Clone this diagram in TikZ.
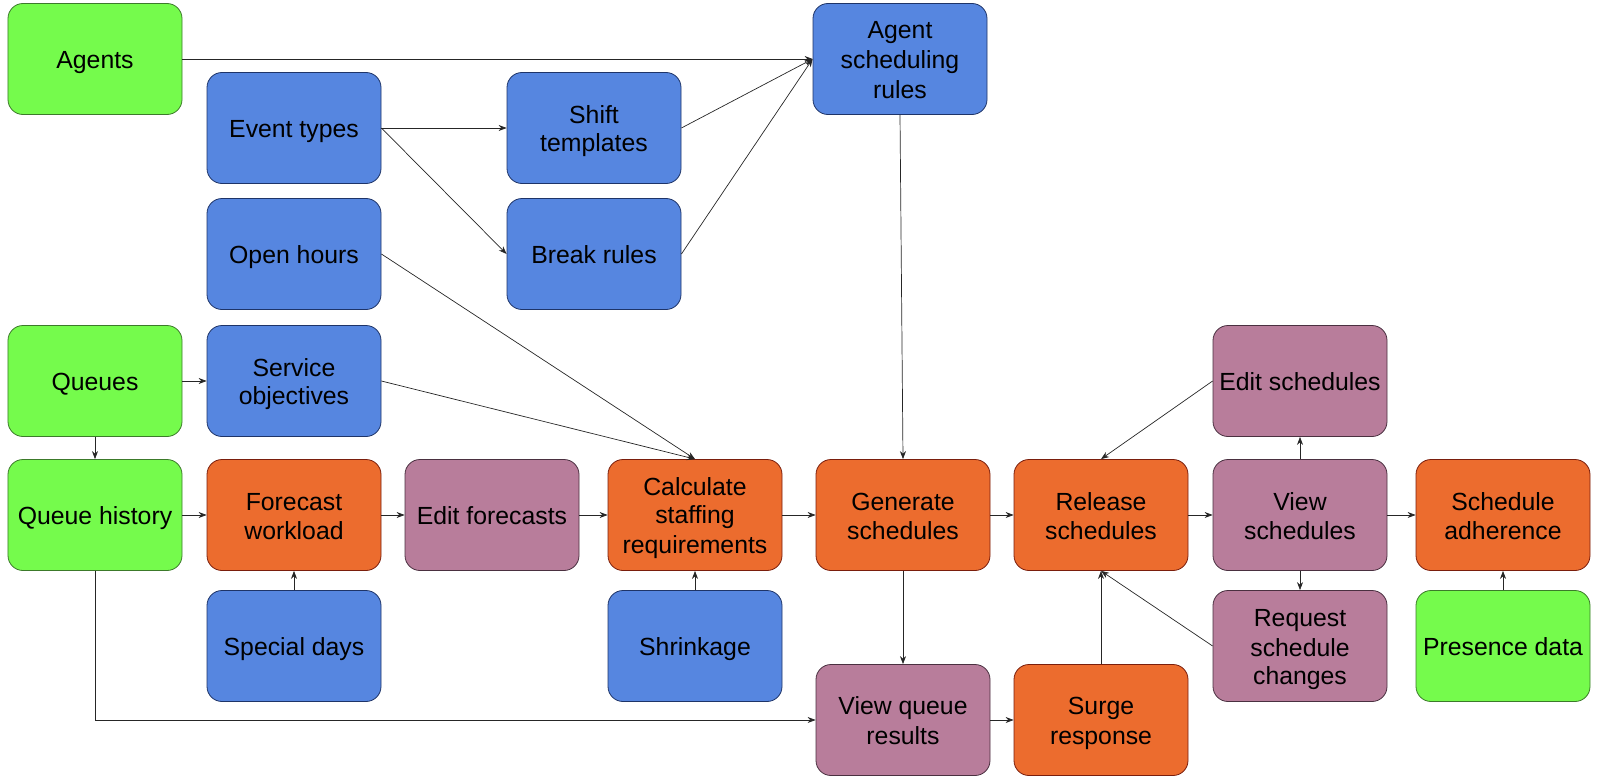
\documentclass[tikz,border=0pt]{standalone}
\usepackage{fontspec}
\setmainfont{Liberation Sans}
\usetikzlibrary{arrows.meta}
\definecolor{gfill}{HTML}{75FB4C}
\definecolor{gdraw}{HTML}{3C7A2A}
\definecolor{bfill}{HTML}{5686E0}
\definecolor{bdraw}{HTML}{1E3468}
\definecolor{ofill}{HTML}{EC6C2E}
\definecolor{odraw}{HTML}{7A1E0C}
\definecolor{pfill}{HTML}{B87D9B}
\definecolor{pdraw}{HTML}{4A3040}
\newcommand\xs{\rule[-4.7bp]{0pt}{28.7bp}}
\tikzset{
  box/.style={rectangle, rounded corners=15bp, minimum width=174bp, minimum height=111bp,
    inner sep=2bp, align=center, line width=0.8bp, font=\fontsize{24.8bp}{28.7bp}\selectfont},
  gbox/.style={box, fill=gfill, draw=gdraw},
  bbox/.style={box, fill=bfill, draw=bdraw},
  obox/.style={box, fill=ofill, draw=odraw},
  pbox/.style={box, fill=pfill, draw=pdraw},
  conn/.style={draw=black!85, line width=0.7bp, -{Stealth[length=8bp,width=6bp]}},
}
\begin{document}
\begin{tikzpicture}[x=1bp,y=-1bp]
\useasboundingbox (0,0) rectangle (1600,781);
\node[gbox] (agents) at (95,59) {\xs Agents};
\node[bbox] (asr) at (900,59) {\xs Agent\\\xs scheduling\\\xs rules};
\node[bbox] (event) at (294,128) {\xs Event types};
\node[bbox] (shift) at (594,128) {\xs Shift\\\xs templates};
\node[bbox] (open) at (294,254) {\xs Open hours};
\node[bbox] (brk) at (594,254) {\xs Break rules};
\node[gbox] (queues) at (95,381) {\xs Queues};
\node[bbox] (service) at (294,381) {\xs Service\\\xs objectives};
\node[pbox] (editsch) at (1300,381) {\xs Edit schedules};
\node[gbox] (qhist) at (95,515) {\xs Queue history};
\node[obox] (forecast) at (294,515) {\xs Forecast\\\xs workload};
\node[pbox] (editf) at (492,515) {\xs Edit forecasts};
\node[obox] (calc) at (695,515) {\xs Calculate\\\xs staffing\\\xs requirements};
\node[obox] (gen) at (903,515) {\xs Generate\\\xs schedules};
\node[obox] (rel) at (1101,515) {\xs Release\\\xs schedules};
\node[pbox] (views) at (1300,515) {\xs View\\\xs schedules};
\node[obox] (adh) at (1503,515) {\xs Schedule\\\xs adherence};
\node[bbox] (special) at (294,646) {\xs Special days};
\node[bbox] (shrink) at (695,646) {\xs Shrinkage};
\node[pbox] (request) at (1300,646) {\xs Request\\\xs schedule\\\xs changes};
\node[gbox] (presence) at (1503,646) {\xs Presence data};
\node[pbox] (vqr) at (903,720) {\xs View queue\\\xs results};
\node[obox] (surge) at (1101,720) {\xs Surge\\\xs response};

\draw[conn] (agents.east) -- (asr.west);
\draw[conn] (event.east) -- (shift.west);
\draw[conn] (event.east) -- (brk.west);
\draw[conn] (shift.east) -- (asr.west);
\draw[conn] (brk.east) -- (asr.west);
\draw[conn] (open.east) -- (calc.north);
\draw[conn] (service.east) -- (calc.north);
\draw[conn] (queues.east) -- (service.west);
\draw[conn] (queues.south) -- (qhist.north);
\draw[conn] (qhist.east) -- (forecast.west);
\draw[conn] (forecast.east) -- (editf.west);
\draw[conn] (editf.east) -- (calc.west);
\draw[conn] (calc.east) -- (gen.west);
\draw[conn] (gen.east) -- (rel.west);
\draw[conn] (rel.east) -- (views.west);
\draw[conn] (views.east) -- (adh.west);
\draw[conn] (special.north) -- (forecast.south);
\draw[conn] (shrink.north) -- (calc.south);
\draw[conn] (asr.south) -- (gen.north);
\draw[conn] (gen.south) -- (vqr.north);
\draw[conn] (qhist.south) |- (vqr.west);
\draw[conn] (vqr.east) -- (surge.west);
\draw[conn] (surge.north) -- (rel.south);
\draw[conn] (request.west) -- (rel.south);
\draw[conn] (editsch.west) -- (rel.north);
\draw[conn] (views.north) -- (editsch.south);
\draw[conn] (views.south) -- (request.north);
\draw[conn] (presence.north) -- (adh.south);
\end{tikzpicture}
\end{document}
